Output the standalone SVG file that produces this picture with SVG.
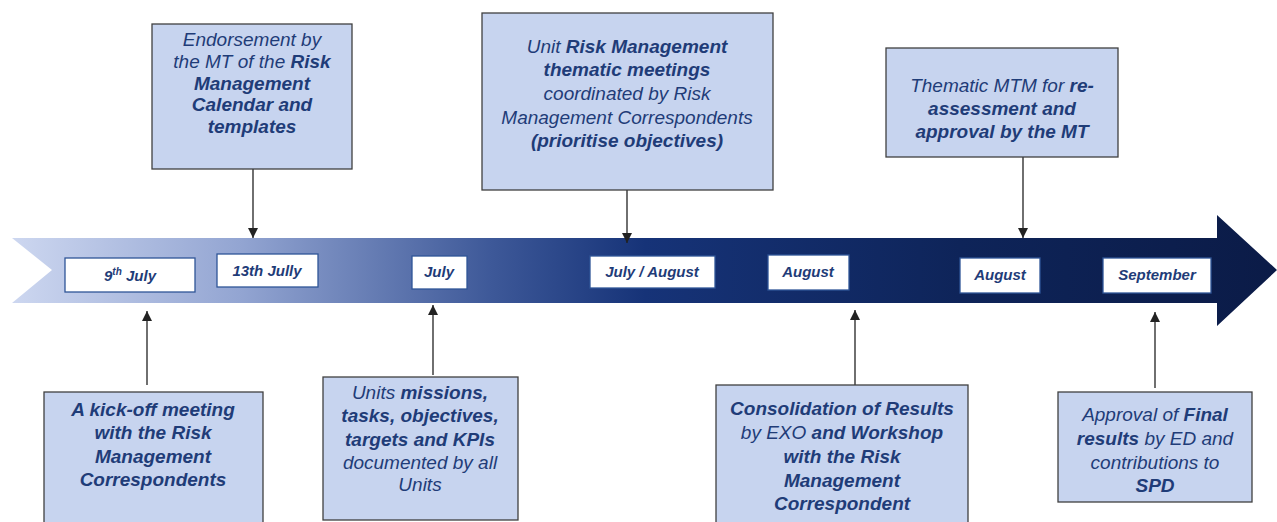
<svg xmlns="http://www.w3.org/2000/svg" width="1277" height="522" viewBox="0 0 1277 522">
<defs>
<linearGradient id="band" x1="12" y1="0" x2="1277" y2="0" gradientUnits="userSpaceOnUse">
<stop offset="0" stop-color="#cdd7f0"/>
<stop offset="0.18" stop-color="#93a5d2"/>
<stop offset="0.38" stop-color="#3d5898"/>
<stop offset="0.5" stop-color="#163378"/>
<stop offset="0.75" stop-color="#0e2459"/>
<stop offset="1" stop-color="#0b1b47"/>
</linearGradient>
<marker id="ah" viewBox="0 0 10 10" refX="10" refY="5" markerWidth="10" markerHeight="10" markerUnits="userSpaceOnUse" orient="auto">
<path d="M0,0 L10,5 L0,10 Z" fill="#222"/>
</marker>
<style>
.box{fill:#c7d4ef;stroke:#404040;stroke-width:1.3}
.dbox{fill:#ffffff;stroke:#2f5597;stroke-width:1.3}
.t{font-family:"Liberation Sans",Arial,sans-serif;font-size:19px;font-style:italic;fill:#1f3c78;text-anchor:middle}
.d{font-family:"Liberation Sans",Arial,sans-serif;font-size:15px;font-style:italic;font-weight:bold;fill:#1f3c78;text-anchor:middle}
.b{font-weight:bold}
.c{stroke:#222;stroke-width:1.3;fill:none;marker-end:url(#ah)}
</style>
</defs>
<g id="timeline">
<path d="M12,238 L1217,238 L1217,215 L1277,270 L1217,326 L1217,303 L12,303 L52,270 Z" fill="url(#band)"/>
</g>
<g id="connectors">
<line class="c" x1="253" y1="169" x2="253" y2="238"/>
<line class="c" x1="627" y1="190" x2="627" y2="243"/>
<line class="c" x1="1023" y1="157" x2="1023" y2="238"/>
<line class="c" x1="147" y1="385" x2="147" y2="311"/>
<line class="c" x1="433" y1="375" x2="433" y2="305"/>
<line class="c" x1="855" y1="385" x2="855" y2="310"/>
<line class="c" x1="1155" y1="388" x2="1155" y2="312"/>
</g>
<g id="d1"><rect class="dbox" x="65" y="258" width="130" height="34"/><text class="d" x="130" y="281">9<tspan font-size="10" dy="-6">th</tspan><tspan dy="6"> July</tspan></text></g>
<g id="d2"><rect class="dbox" x="217" y="254" width="101" height="33"/><text class="d" x="267" y="276">13th Jully</text></g>
<g id="d3"><rect class="dbox" x="412" y="256" width="55" height="33"/><text class="d" x="439" y="277">July</text></g>
<g id="d4"><rect class="dbox" x="590" y="256" width="125" height="32"/><text class="d" x="652" y="277">July / August</text></g>
<g id="d5"><rect class="dbox" x="768" y="255" width="81" height="35"/><text class="d" x="808" y="277">August</text></g>
<g id="d6"><rect class="dbox" x="960" y="258" width="80" height="35"/><text class="d" x="1000" y="280">August</text></g>
<g id="d7"><rect class="dbox" x="1103" y="258" width="108" height="35"/><text class="d" x="1157" y="280">September</text></g>
<g id="n1"><rect class="box" x="152" y="24" width="200" height="145"/>
<text class="t" x="252" y="46">Endorsement by</text>
<text class="t" x="252" y="68">the MT of the <tspan class="b">Risk</tspan></text>
<text class="t b" x="252" y="90">Management</text>
<text class="t b" x="252" y="111">Calendar and</text>
<text class="t b" x="252" y="133">templates</text></g>
<g id="n2"><rect class="box" x="482" y="13" width="291" height="177"/>
<text class="t" x="627" y="53">Unit <tspan class="b">Risk Management</tspan></text>
<text class="t b" x="627" y="76">thematic meetings</text>
<text class="t" x="627" y="100">coordinated by Risk</text>
<text class="t" x="627" y="124">Management Correspondents</text>
<text class="t b" x="627" y="147">(prioritise objectives)</text></g>
<g id="n3"><rect class="box" x="886" y="48" width="232" height="109"/>
<text class="t" x="1002" y="92">Thematic MTM for <tspan class="b">re-</tspan></text>
<text class="t b" x="1002" y="115">assessment and</text>
<text class="t b" x="1002" y="138">approval by the MT</text></g>
<g id="n4"><rect class="box" x="44" y="392" width="219" height="140"/>
<text class="t b" x="153" y="416">A kick-off meeting</text>
<text class="t b" x="153" y="439">with the Risk</text>
<text class="t b" x="153" y="463">Management</text>
<text class="t b" x="153" y="486">Correspondents</text></g>
<g id="n5"><rect class="box" x="323" y="377" width="195" height="143"/>
<text class="t" x="420" y="399">Units <tspan class="b">missions,</tspan></text>
<text class="t b" x="420" y="422">tasks, objectives,</text>
<text class="t b" x="420" y="446">targets and KPIs</text>
<text class="t" x="420" y="469">documented by all</text>
<text class="t" x="420" y="491">Units</text></g>
<g id="n6"><rect class="box" x="716" y="385" width="252" height="147"/>
<text class="t b" x="842" y="415">Consolidation of Results</text>
<text class="t" x="842" y="439">by EXO <tspan class="b">and Workshop</tspan></text>
<text class="t b" x="842" y="463">with the Risk</text>
<text class="t b" x="842" y="487">Management</text>
<text class="t b" x="842" y="510">Correspondent</text></g>
<g id="n7"><rect class="box" x="1058" y="392" width="194" height="110"/>
<text class="t" x="1155" y="421">Approval of <tspan class="b">Final</tspan></text>
<text class="t" x="1155" y="445"><tspan class="b">results</tspan> by ED and</text>
<text class="t" x="1155" y="469">contributions to</text>
<text class="t b" x="1155" y="492">SPD</text></g>
</svg>
